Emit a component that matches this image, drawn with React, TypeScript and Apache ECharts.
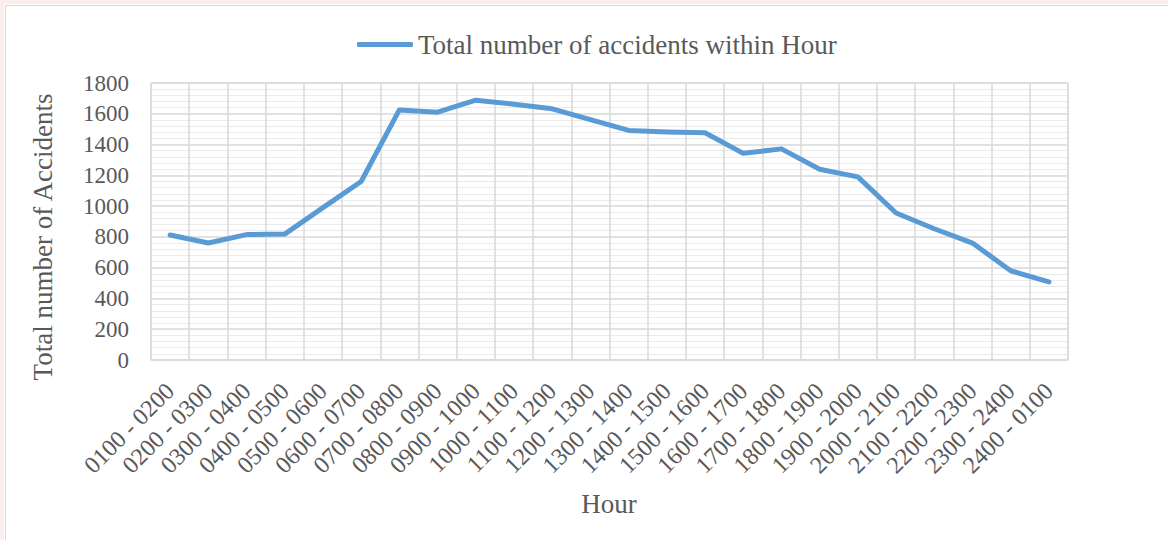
import React, { useEffect, useRef } from "react";
import * as echarts from "echarts";

const hours: string[] = [
  "0100 - 0200", "0200 - 0300", "0300 - 0400", "0400 - 0500", "0500 - 0600", "0600 - 0700",
  "0700 - 0800", "0800 - 0900", "0900 - 1000", "1000 - 1100", "1100 - 1200", "1200 - 1300",
  "1300 - 1400", "1400 - 1500", "1500 - 1600", "1600 - 1700", "1700 - 1800", "1800 - 1900",
  "1900 - 2000", "2000 - 2100", "2100 - 2200", "2200 - 2300", "2300 - 2400", "2400 - 0100",
];

const accidents: number[] = [
  812, 760, 815, 818, 990, 1160, 1625, 1610, 1688, 1662, 1632, 1562,
  1492, 1482, 1477, 1343, 1372, 1240, 1190, 955, 853, 760, 580, 508,
];

const seriesName = "Total number of accidents within Hour";
const yAxisTitle = "Total number of Accidents";
const xAxisTitle = "Hour";

const FONT = "'Liberation Serif', 'Times New Roman', serif";
const TEXT = "#595959";

export default function App() {
  const ref = useRef<HTMLDivElement>(null);
  useEffect(() => {
    if (!ref.current) return;
    const chart = echarts.init(ref.current, undefined, { renderer: "svg" });
    chart.setOption({
      animation: false,
      backgroundColor: "#ffffff",
      textStyle: { fontFamily: FONT, color: TEXT },
      graphic: [
        { type: "rect", shape: { x: 0, y: 0, width: 1168, height: 4 }, style: { fill: "#fdeeee" } },
        { type: "rect", shape: { x: 0, y: 0, width: 4, height: 540 }, style: { fill: "#fdeeee" } },
        {
          type: "rect",
          shape: { x: 5.5, y: 5.5, width: 1200, height: 600 },
          style: { fill: "none", stroke: "#d9d9d9", lineWidth: 1 },
        },
        {
          type: "text",
          x: 43,
          y: 237,
          rotation: Math.PI / 2,
          style: {
            text: yAxisTitle,
            font: `27px ${FONT}`,
            fill: TEXT,
            align: "center",
            verticalAlign: "middle",
          },
        },
        {
          type: "text",
          x: 609,
          y: 504,
          style: {
            text: xAxisTitle,
            font: `27px ${FONT}`,
            fill: TEXT,
            align: "center",
            verticalAlign: "middle",
          },
        },
      ],
      legend: {
        data: [seriesName],
        left: 357,
        top: 31,
        padding: 0,
        itemWidth: 56,
        itemHeight: 5,
        icon: "roundRect",
        textStyle: { fontFamily: FONT, fontSize: 27, color: TEXT },
      },
      grid: {
        left: 151,
        right: 100,
        top: 83,
        bottom: 180,
        show: true,
        borderColor: "#d9d9d9",
        borderWidth: 1,
      },
      xAxis: {
        type: "category",
        data: hours,
        boundaryGap: true,
        axisLine: { show: true, lineStyle: { color: "#d9d9d9", width: 1.5 } },
        axisTick: { show: false },
        splitLine: { show: true, lineStyle: { color: "#d9d9d9", width: 1.5 } },
        axisLabel: {
          rotate: 45,
          interval: 0,
          margin: 27,
          fontFamily: FONT,
          fontSize: 24,
          color: TEXT,
        },
      },
      yAxis: {
        type: "value",
        min: 0,
        max: 1800,
        interval: 200,
        axisLine: { show: false },
        axisTick: { show: false },
        axisLabel: {
          margin: 22,
          fontFamily: FONT,
          fontSize: 23,
          color: TEXT,
          formatter: (v: number) => String(v),
        },
        splitLine: { show: true, lineStyle: { color: "#d9d9d9", width: 1.5 } },
        minorTick: { show: false, splitNumber: 5 },
        minorSplitLine: { show: true, lineStyle: { color: "#ebebeb", width: 1 } },
      },
      series: [
        {
          name: seriesName,
          type: "line",
          data: accidents,
          symbol: "none",
          lineStyle: { color: "#5b9bd5", width: 5, join: "round", cap: "round" },
          itemStyle: { color: "#5b9bd5" },
        },
      ],
    });
    return () => chart.dispose();
  }, []);
  return (
    <div
      ref={ref}
      style={{ position: "absolute", left: 0, top: 0, width: 1168, height: 540 }}
    />
  );
}
